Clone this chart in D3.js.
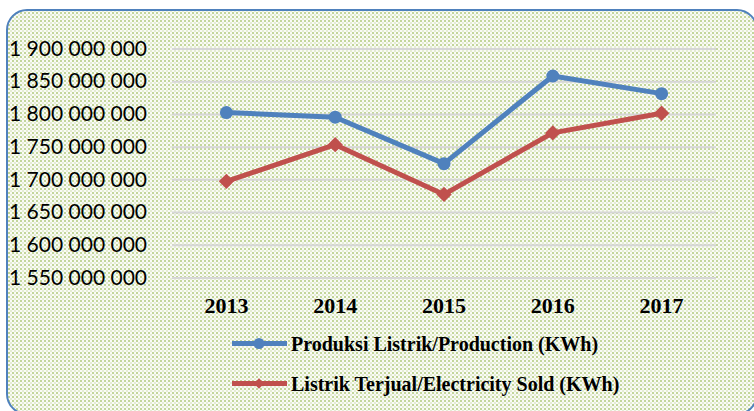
<!DOCTYPE html>
<html>
<head>
<meta charset="utf-8">
<script src="https://cdn.jsdelivr.net/npm/d3@7"></script>
<style>
	body{margin:0;background:#fff;}
	svg{display:block;}
</style>
</head>
<body>
<svg id="chart" width="754" height="411"></svg>
<script>
// data
const years = ['2013','2014','2015','2016','2017'];
const production = [1802000000, 1795000000, 1724000000, 1858000000, 1831000000];
const sold = [1697000000, 1753000000, 1677000000, 1771000000, 1801000000];
const yTicks = [1550000000,1600000000,1650000000,1700000000,1750000000,1800000000,1850000000,1900000000];
const seriesNames = ['Produksi Listrik/Production (KWh)','Listrik Terjual/Electricity Sold (KWh)'];

const blue = '#4f81bd', red = '#c0504d';
const svg = d3.select('#chart');

// dotted green fill
const defs = svg.append('defs');
const pat = defs.append('pattern')
	.attr('id','dots')
	.attr('width',4).attr('height',4)
	.attr('patternUnits','userSpaceOnUse');
pat.append('rect').attr('width',4).attr('height',4).attr('fill','#fafbf6');
pat.append('rect').attr('width',2).attr('height',2).attr('fill','#c3d69b');
pat.append('rect').attr('x',2).attr('y',2).attr('width',2).attr('height',2).attr('fill','#e4ecd3');

svg.append('rect')
	.attr('x',7).attr('y',10)
	.attr('width',750).attr('height',404)
	.attr('rx',20).attr('ry',20)
	.attr('fill','url(#dots)')
	.attr('stroke',blue)
	.attr('stroke-width',2);

const x = d3.scaleBand().domain(years).range([172,716]);
const y = d3.scaleLinear().domain([1550000000,1900000000]).range([277.5,48.5]);

// y axis + gridlines
const yAxis = d3.axisLeft(y)
	.tickValues(yTicks)
	.tickSizeInner(-(716-172))
	.tickSizeOuter(0)
	.tickPadding(25)
	.tickFormat(d => d3.format(',')(d).replace(/,/g,' '));
const gy = svg.append('g').attr('transform','translate(172,0)').call(yAxis);
gy.select('.domain').remove();
gy.selectAll('line').attr('stroke','#d6d6d6').attr('stroke-width',2);
gy.selectAll('text')
	.attr('fill','#000')
	.style('font-family','Lato, "Open Sans", sans-serif')
	.style('font-size','21px');

// x axis labels
const xAxis = d3.axisBottom(x).tickSize(0).tickPadding(20);
const gx = svg.append('g').attr('transform','translate(0,277.5)').call(xAxis);
gx.select('.domain').remove();
gx.selectAll('text')
	.attr('fill','#000')
	.style('font-family','"Liberation Serif", serif')
	.style('font-weight','bold')
	.style('font-size','22px');

const line = d3.line()
	.x((d,i) => x(years[i]) + x.bandwidth()/2)
	.y(d => y(d));

const diamond = d3.symbol().type(d3.symbolDiamond2);

function drawSeries(vals, color, isCircle){
	svg.append('path')
		.datum(vals)
		.attr('fill','none')
		.attr('stroke',color)
		.attr('stroke-width',5)
		.attr('stroke-linejoin','round')
		.attr('d',line);
	const g = svg.append('g');
	vals.forEach((v,i) => {
		const cx = x(years[i]) + x.bandwidth()/2, cy = y(v);
		if(isCircle){
			g.append('circle').attr('cx',cx).attr('cy',cy).attr('r',6.5).attr('fill',color);
		}else{
			g.append('path').attr('d',diamond.size(150)()).attr('transform',`translate(${cx},${cy})`).attr('fill',color);
		}
	});
}
drawSeries(production, blue, true);
drawSeries(sold, red, false);

// legend
const legend = svg.append('g');
[blue, red].forEach((c,i) => {
	const ly = 343.5 + i*40;
	legend.append('line').attr('x1',232).attr('x2',287).attr('y1',ly).attr('y2',ly)
		.attr('stroke',c).attr('stroke-width',5);
	if(i === 0){
		legend.append('circle').attr('cx',259).attr('cy',ly).attr('r',5.5).attr('fill',c);
	}else{
		legend.append('path').attr('d',diamond.size(70)()).attr('transform',`translate(259,${ly})`).attr('fill',c);
	}
	legend.append('text')
		.attr('x',291).attr('y',ly).attr('dy','0.35em')
		.style('font-family','"Liberation Serif", serif')
		.style('font-weight','bold')
		.style('font-size','20px')
		.text(seriesNames[i]);
});
</script>
</body>
</html>
